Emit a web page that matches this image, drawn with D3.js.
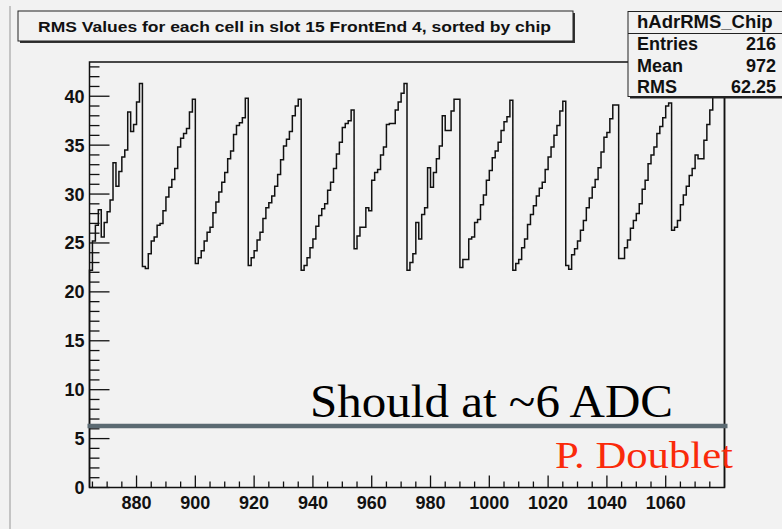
<!DOCTYPE html>
<html>
<head>
  <meta charset="utf-8">
  <script src="https://d3js.org/d3.v7.min.js"></script>
  <style>
    body { margin: 0; background: #f2f2f2; }
    text { font-family: "Liberation Sans", Arial, sans-serif; }
    .serif { font-family: "Liberation Serif", "Times New Roman", serif; }
  </style>
</head>
<body>
<div id="chart"></div>
<script>

    // RMS per cell, 12 chips x 18 cells, bins 864..1079
    const chip01 = [22.2, 25.2, 26.8, 28.4, 25.6, 27.1, 28.2, 29.4, 33.2, 30.8, 32.3, 33.8, 34.5, 38.4, 36.4, 37.1, 39.4, 41.3]
    const chip02 = [22.6, 22.4, 23.9, 25.2, 25.6, 26.8, 27.0, 28.3, 29.7, 30.7, 31.5, 32.6, 34.8, 35.7, 36.2, 36.7, 38.4, 39.7]
    const chip03 = [22.9, 23.5, 24.2, 25.2, 26.1, 26.6, 28.1, 29.2, 30.2, 31.2, 32.2, 33.6, 34.4, 36.1, 37.0, 37.3, 37.8, 39.8]
    const chip04 = [22.7, 23.5, 24.2, 25.3, 26.1, 27.5, 28.6, 29.1, 29.8, 30.8, 32.0, 33.5, 34.9, 35.6, 36.4, 38.0, 39.0, 39.7]
    const chip05 = [22.2, 22.7, 23.5, 24.5, 25.4, 26.7, 27.8, 28.5, 29.0, 30.4, 31.2, 32.6, 34.1, 35.3, 36.8, 37.2, 37.5, 38.6]
    const chip06 = [24.4, 25.7, 26.6, 26.6, 28.6, 28.3, 31.4, 32.2, 32.5, 34.0, 34.8, 37.1, 37.2, 37.2, 38.6, 39.4, 40.3, 41.3]
    const chip07 = [22.2, 23.0, 23.9, 27.1, 25.4, 27.9, 28.6, 32.7, 30.7, 32.2, 33.6, 34.9, 38.0, 36.5, 36.5, 38.5, 39.7, 39.7]
    const chip08 = [22.5, 23.3, 23.3, 25.4, 25.6, 27.1, 27.4, 28.9, 29.9, 31.4, 32.4, 33.7, 34.4, 35.3, 36.5, 37.4, 37.9, 39.6]
    const chip09 = [22.2, 22.9, 23.3, 24.5, 25.4, 26.9, 27.9, 28.8, 29.8, 30.6, 31.2, 32.5, 33.8, 34.8, 36.0, 37.0, 38.5, 39.5]
    const chip10 = [22.7, 22.3, 23.8, 24.4, 25.2, 26.3, 27.3, 28.6, 29.6, 30.7, 31.5, 32.7, 34.3, 35.8, 36.3, 37.7, 39.1, 39.1]
    const chip11 = [23.4, 23.4, 24.5, 25.3, 26.5, 27.3, 28.0, 29.0, 30.5, 31.4, 33.1, 34.0, 34.8, 36.2, 36.9, 37.8, 39.0, 39.3]
    const chip12 = [26.3, 26.6, 27.3, 28.9, 29.9, 30.8, 31.9, 32.6, 34.0, 33.6, 33.6, 35.5, 37.1, 38.6, 40.3, 40.9, 41.5, 42.0]

    const rms = [].concat(chip01, chip02, chip03, chip04, chip05, chip06,
                          chip07, chip08, chip09, chip10, chip11, chip12)

    const xDomain = [864, 1080]
    const yDomain = [0, 43.5]
    const xLabels = [880, 900, 920, 940, 960, 980, 1000, 1020, 1040, 1060]
    const yLabels = [0, 5, 10, 15, 20, 25, 30, 35, 40]

    const title = 'RMS Values for each cell in slot 15 FrontEnd 4, sorted by chip'
    const statName = 'hAdrRMS_Chip'
    const statKeys = ['Entries', 'Mean', 'RMS']
    const statVals = ['216', '972', '62.25']

    const lineLevel = 6.3
    const note = 'Should at ~6 ADC'
    const author = 'P. Doublet'

    const width = 782, height = 529
    const frame = { left: 89.5, right: 724.5, top: 62, bottom: 487.5 }

    const svg = d3.select('#chart').append('svg')
        .attr('width', width)
        .attr('height', height)

    svg.append('rect').attr('width', width).attr('height', height).attr('fill', '#f2f2f2')

    // canvas border on the left
    svg.append('line')
        .attr('x1', 10).attr('x2', 10).attr('y1', 6).attr('y2', height)
        .attr('stroke', '#c4c4c4').attr('stroke-width', 2)

    const x = d3.scaleLinear().domain(xDomain).range([frame.left, frame.right])
    const y = d3.scaleLinear().domain(yDomain).range([frame.bottom, frame.top])

    // frame
    svg.append('rect')
        .attr('x', frame.left).attr('y', frame.top)
        .attr('width', frame.right - frame.left).attr('height', frame.bottom - frame.top)
        .attr('fill', 'none').attr('stroke', '#111').attr('stroke-width', 1.5)

    // histogram outline
    const pts = [[xDomain[0], 0]]
    rms.forEach((v, i) => {
        pts.push([xDomain[0] + i, v])
        pts.push([xDomain[0] + i + 1, v])
    })
    pts.push([xDomain[1], 0])

    svg.append('path')
        .attr('d', d3.line().x(d => x(d[0])).y(d => y(d[1]))(pts))
        .attr('fill', 'none')
        .attr('stroke', '#111')
        .attr('stroke-width', 1.5)

    // x axis ticks (ROOT style, inside the frame)
    const xg = svg.append('g').attr('transform', `translate(0,${frame.bottom})`)
    xg.selectAll('line.minor')
        .data(d3.range(865, 1080, 5))
        .enter().append('line')
        .attr('x1', d => x(d)).attr('x2', d => x(d))
        .attr('y1', 0).attr('y2', d => d % 20 === 0 ? -12 : -6)
        .attr('stroke', '#111').attr('stroke-width', 1.3)
    xg.selectAll('text')
        .data(xLabels)
        .enter().append('text')
        .attr('x', d => x(d)).attr('y', 21)
        .attr('text-anchor', 'middle')
        .attr('font-size', 18).attr('font-weight', 'bold')
        .attr('fill', '#111')
        .text(d => d)

    // y axis ticks
    const yg = svg.append('g').attr('transform', `translate(${frame.left},0)`)
    yg.selectAll('line')
        .data(d3.range(0, 44, 1))
        .enter().append('line')
        .attr('x1', 0).attr('x2', d => d % 5 === 0 ? 20 : 10)
        .attr('y1', d => y(d)).attr('y2', d => y(d))
        .attr('stroke', '#111').attr('stroke-width', 1.3)
    yg.selectAll('text')
        .data(yLabels)
        .enter().append('text')
        .attr('x', -5).attr('y', d => y(d))
        .attr('dy', '0.36em')
        .attr('text-anchor', 'end')
        .attr('font-size', 18).attr('font-weight', 'bold')
        .attr('fill', '#111')
        .text(d => d)

    // title box
    const tb = svg.append('g')
    tb.append('rect').attr('x', 20).attr('y', 13).attr('width', 555).attr('height', 30).attr('fill', '#333')
    tb.append('rect').attr('x', 18).attr('y', 11).attr('width', 555).attr('height', 30)
        .attr('fill', '#f2f2f2').attr('stroke', '#222').attr('stroke-width', 1)
    tb.append('text')
        .attr('x', 38).attr('y', 31.5)
        .attr('font-size', 15).attr('font-weight', 'bold')
        .attr('textLength', 513).attr('lengthAdjust', 'spacingAndGlyphs')
        .attr('fill', '#111')
        .text(title)

    // stats box
    const sb = svg.append('g')
    sb.append('rect').attr('x', 630).attr('y', 13.5).attr('width', 160).attr('height', 85).attr('fill', '#222')
    sb.append('rect').attr('x', 628).attr('y', 11.5).attr('width', 160).attr('height', 85)
        .attr('fill', '#f2f2f2').attr('stroke', '#222').attr('stroke-width', 1)
    sb.append('line').attr('x1', 628).attr('x2', 782).attr('y1', 33.5).attr('y2', 33.5)
        .attr('stroke', '#222').attr('stroke-width', 1)
    sb.append('text')
        .attr('x', 637).attr('y', 28)
        .attr('font-size', 18.5).attr('font-weight', 'bold').attr('fill', '#111')
        .text(statName)
    sb.selectAll('text.key')
        .data(statKeys)
        .enter().append('text')
        .attr('class', 'key')
        .attr('x', 637).attr('y', (d, i) => 50 + i * 21.5)
        .attr('font-size', 18).attr('font-weight', 'bold').attr('fill', '#111')
        .text(d => d)
    sb.selectAll('text.val')
        .data(statVals)
        .enter().append('text')
        .attr('class', 'val')
        .attr('x', 776).attr('y', (d, i) => 50 + i * 21.5)
        .attr('text-anchor', 'end')
        .attr('font-size', 18).attr('font-weight', 'bold').attr('fill', '#111')
        .text(d => d)

    // annotation
    const defs = svg.append('defs')
    defs.append('filter').attr('id', 'blur')
        .append('feGaussianBlur').attr('stdDeviation', 2)

    svg.append('line')
        .attr('x1', x(xDomain[0]) - 2).attr('x2', x(xDomain[1]) + 3)
        .attr('y1', y(lineLevel) + 2).attr('y2', y(lineLevel) + 2)
        .attr('stroke', '#9aa2a6').attr('stroke-width', 5).attr('opacity', 0.6)
        .attr('filter', 'url(#blur)')
    svg.append('line')
        .attr('x1', x(xDomain[0]) - 2).attr('x2', x(xDomain[1]) + 3)
        .attr('y1', y(lineLevel)).attr('y2', y(lineLevel))
        .attr('stroke', '#5b6a72').attr('stroke-width', 4.5)

    svg.append('text')
        .attr('class', 'serif')
        .attr('x', 310).attr('y', 416.5)
        .attr('font-size', 47)
        .attr('textLength', 363).attr('lengthAdjust', 'spacingAndGlyphs')
        .attr('fill', '#000')
        .text(note)

    svg.append('text')
        .attr('class', 'serif')
        .attr('x', 555).attr('y', 468)
        .attr('font-size', 38)
        .attr('textLength', 178).attr('lengthAdjust', 'spacingAndGlyphs')
        .attr('fill', '#fa2a0a')
        .text(author)

</script>
</body>
</html>
